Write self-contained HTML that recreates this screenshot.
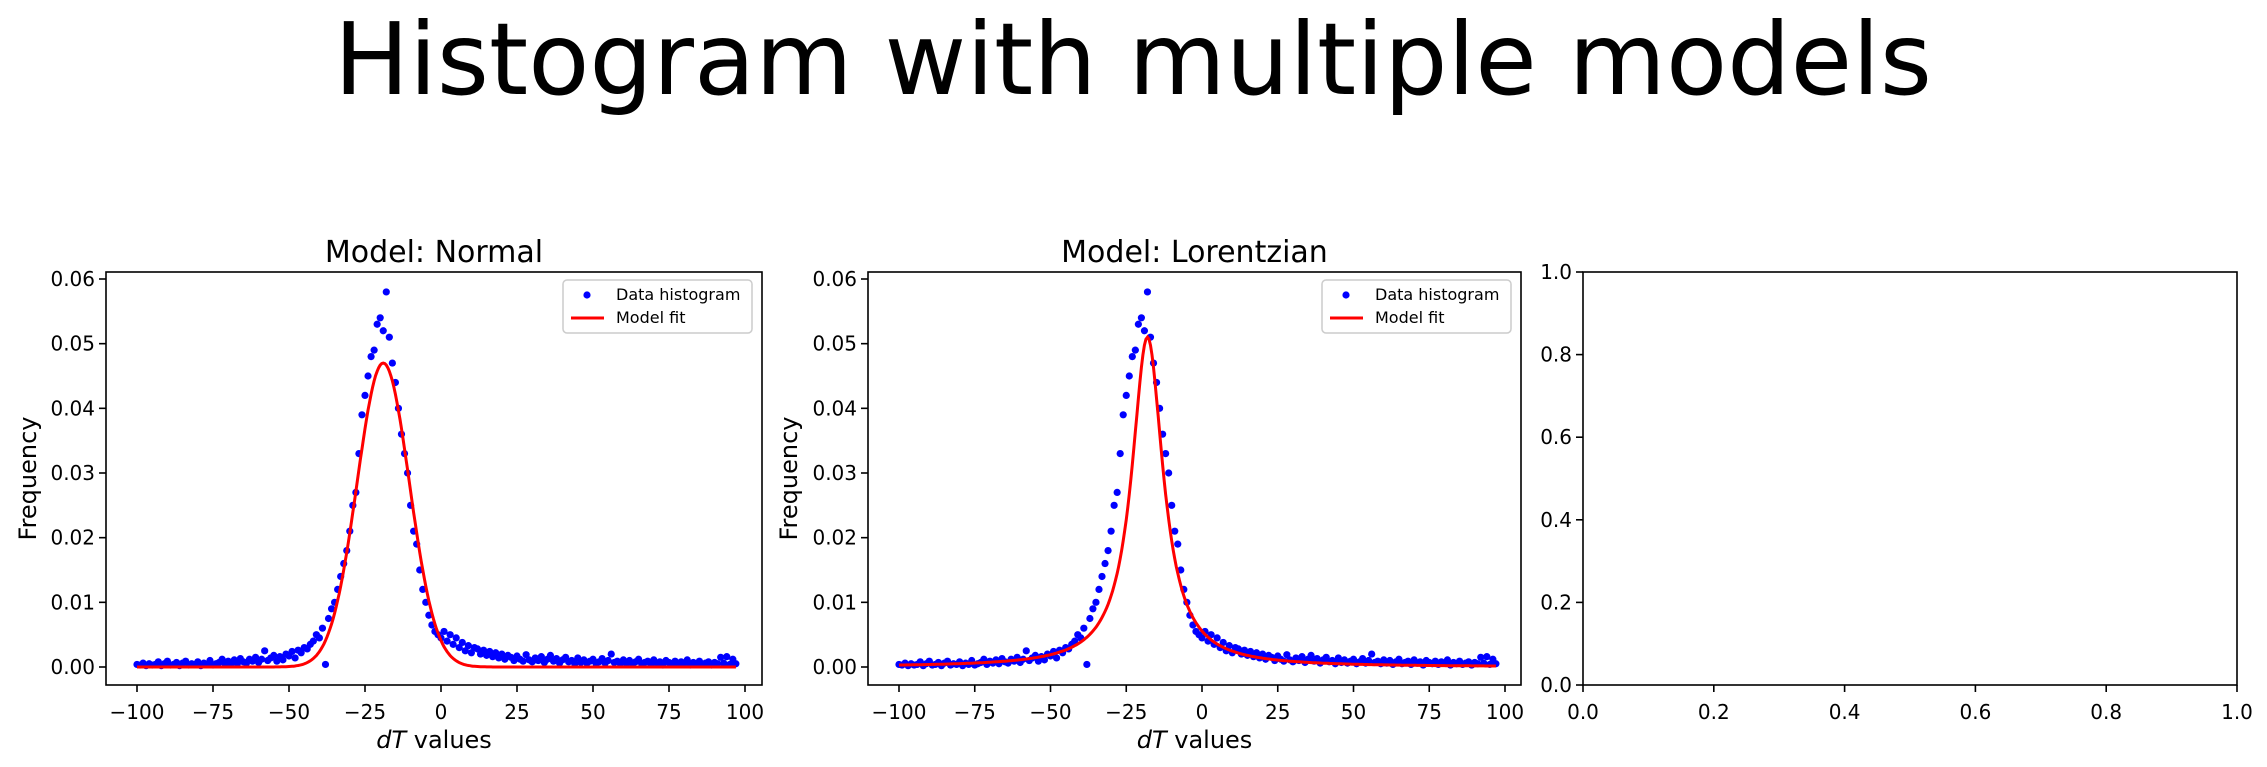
<!DOCTYPE html>
<html><head><meta charset="utf-8"><style>
html,body{margin:0;padding:0;background:#fff;}
svg{display:block;font-family:"DejaVu Sans","Liberation Sans",sans-serif;}
</style></head><body>
<svg id="fig" width="2267" height="767" viewBox="0 0 2267 767">
<text x="1133" y="94" font-size="100" text-anchor="middle">Histogram with multiple models</text>
<g id="root"></g>
</svg>
<script>
const dataX = [-100,-99,-98,-97,-96,-95,-94,-93,-92,-91,-90,-89,-88,-87,-86,-85,-84,-83,-82,-81,-80,-79,-78,-77,-76,-75,-74,-73,-72,-71,-70,-69,-68,-67,-66,-65,-64,-63,-62,-61,-60,-59,-58,-57,-56,-55,-54,-53,-52,-51,-50,-49,-48,-47,-46,-45,-44,-43,-42,-41,-40,-39,-38,-37,-36,-35,-34,-33,-32,-31,-30,-29,-28,-27,-26,-25,-24,-23,-22,-21,-20,-19,-18,-17,-16,-15,-14,-13,-12,-11,-10,-9,-8,-7,-6,-5,-4,-3,-2,-1,0,1,2,3,4,5,6,7,8,9,10,11,12,13,14,15,16,17,18,19,20,21,22,23,24,25,26,27,28,29,30,31,32,33,34,35,36,37,38,39,40,41,42,43,44,45,46,47,48,49,50,51,52,53,54,55,56,57,58,59,60,61,62,63,64,65,66,67,68,69,70,71,72,73,74,75,76,77,78,79,80,81,82,83,84,85,86,87,88,89,90,91,92,93,94,95,96,97];
const dataY = [0.0004,0.0003,0.0006,0.0002,0.0005,0.0003,0.0004,0.0008,0.0002,0.0005,0.0009,0.0003,0.0004,0.0007,0.0002,0.0006,0.0009,0.0003,0.0005,0.0004,0.0008,0.0002,0.0006,0.0004,0.0010,0.0003,0.0005,0.0007,0.0012,0.0004,0.0009,0.0006,0.0011,0.0005,0.0013,0.0008,0.0006,0.0012,0.0009,0.0015,0.0007,0.0012,0.0025,0.0010,0.0014,0.0018,0.0009,0.0016,0.0011,0.0020,0.0017,0.0024,0.0014,0.0026,0.0022,0.0030,0.0028,0.0035,0.0040,0.0050,0.0045,0.0060,0.0004,0.0075,0.0090,0.0100,0.0120,0.0140,0.0160,0.0180,0.0210,0.0250,0.0270,0.0330,0.0390,0.0420,0.0450,0.0480,0.0490,0.0530,0.0540,0.0520,0.0580,0.0510,0.0470,0.0440,0.0400,0.0360,0.0330,0.0300,0.0250,0.0210,0.0190,0.0150,0.0120,0.0100,0.0080,0.0065,0.0055,0.0050,0.0045,0.0055,0.0040,0.0050,0.0035,0.0045,0.0030,0.0038,0.0025,0.0033,0.0022,0.0030,0.0028,0.0020,0.0026,0.0018,0.0024,0.0016,0.0022,0.0014,0.0020,0.0012,0.0018,0.0015,0.0010,0.0017,0.0012,0.0009,0.0019,0.0011,0.0008,0.0014,0.0010,0.0016,0.0007,0.0012,0.0018,0.0009,0.0013,0.0006,0.0011,0.0015,0.0008,0.0010,0.0005,0.0014,0.0007,0.0011,0.0006,0.0009,0.0012,0.0005,0.0008,0.0013,0.0006,0.0010,0.0020,0.0007,0.0009,0.0005,0.0011,0.0006,0.0010,0.0004,0.0008,0.0012,0.0005,0.0007,0.0009,0.0004,0.0011,0.0006,0.0008,0.0003,0.0010,0.0007,0.0005,0.0009,0.0004,0.0008,0.0006,0.0011,0.0003,0.0007,0.0005,0.0009,0.0004,0.0006,0.0008,0.0003,0.0007,0.0005,0.0015,0.0006,0.0016,0.0004,0.0012,0.0005,0.0009,0.0014,0.0004,0.0010];
const xTicks = [-100,-75,-50,-25,0,25,50,75,100];
const yTicks = [0.00,0.01,0.02,0.03,0.04,0.05,0.06];
const yTickLabels = ["0.00","0.01","0.02","0.03","0.04","0.05","0.06"];
const emptyTicks = [0.0,0.2,0.4,0.6,0.8,1.0];
const emptyTickLabels = ["0.0","0.2","0.4","0.6","0.8","1.0"];
const normalParams = [0.047,-19,8.6];   // amplitude, mean, sigma
const lorentzParams = [0.051,-18,6.3];  // amplitude, center, gamma

const NS="http://www.w3.org/2000/svg";
const root=document.getElementById('root');
function mk(tag,attrs,parent){const e=document.createElementNS(NS,tag);for(const k in attrs)e.setAttribute(k,attrs[k]);(parent||root).appendChild(e);return e;}

function panel(cfg){
  const g=mk('g',{});
  
  
  const {L,R,T,B}=cfg;
  const sx=v=>cfg.x0px+(v-cfg.x0)*(cfg.x1px-cfg.x0px)/(cfg.x1-cfg.x0);
  const sy=v=>cfg.y0px+(v-cfg.y0)*(cfg.y1px-cfg.y0px)/(cfg.y1-cfg.y0);
  if(cfg.title){const t=mk('text',{x:(L+R)/2,y:262,'font-size':30,'text-anchor':'middle'},g);t.textContent=cfg.title;
    
    }
  cfg.xt.forEach((v,i)=>{const x=sx(v);mk('line',{x1:x,x2:x,y1:B,y2:B+7,stroke:'#000','stroke-width':1.6},g);
    const t=mk('text',{x:x,y:B+34,'font-size':20,'text-anchor':'middle'},g);t.textContent=cfg.xtl[i];
    
    });
  cfg.yt.forEach((v,i)=>{const y=sy(v);mk('line',{x1:L-7,x2:L,y1:y,y2:y,stroke:'#000','stroke-width':1.6},g);
    const t=mk('text',{x:L-11,y:y+7,'font-size':20,'text-anchor':'end'},g);t.textContent=cfg.ytl[i];
    
    });
  if(cfg.data){
    const dots=mk('g',{fill:'#0000ff'},g);
    
    
    dataX.forEach((x,i)=>{if(i>=dataY.length)return;const c=mk('circle',{cx:sx(x),cy:sy(dataY[i]),r:3.6},dots);
      
      });
    let d='';
    for(let x=-100;x<=97;x+=0.5){const y=cfg.model(x);d+=(d?'L':'M')+sx(x).toFixed(1)+','+sy(y).toFixed(1);}
    const p=mk('path',{d:d,fill:'none',stroke:'#ff0000','stroke-width':3},g);
    
    
    const lg=mk('g',{},g);
    
    
    const lx=R-199, ly=T+8;
    mk('rect',{x:lx,y:ly,width:189,height:53,rx:4,fill:'#fff','fill-opacity':0.8,stroke:'#ccc','stroke-width':1.5},lg);
    mk('circle',{cx:lx+24,cy:ly+15,r:3.6,fill:'#0000ff'},lg);
    const t1=mk('text',{x:lx+53,y:ly+20,'font-size':16},lg);t1.textContent='Data histogram';
    
    
    mk('line',{x1:lx+8,x2:lx+41,y1:ly+38,y2:ly+38,stroke:'#ff0000','stroke-width':3},lg);
    const t2=mk('text',{x:lx+53,y:ly+43,'font-size':16},lg);t2.textContent='Model fit';
    
    
  }
  mk('rect',{x:L,y:T,width:R-L,height:B-T,fill:'none',stroke:'#000','stroke-width':1.6},g);
  if(cfg.xlabel){const t=mk('text',{x:(L+R)/2,y:748,'font-size':24,'text-anchor':'middle'},g);
    t.innerHTML='<tspan font-style="italic">dT</tspan> values';
    
    }
  if(cfg.ylabel){const cy=(T+B)/2;const t=mk('text',{x:cfg.ylx,y:cy,'font-size':24,'text-anchor':'middle',transform:`rotate(-90 ${cfg.ylx} ${cy})`},g);
    t.textContent='Frequency';
    
    }
}
const normal=x=>normalParams[0]*Math.exp(-0.5*Math.pow((x-normalParams[1])/normalParams[2],2));
const lorentz=x=>lorentzParams[0]/(1+Math.pow((x-lorentzParams[1])/lorentzParams[2],2));
const common={T:272,B:685,x0:-100,x1:100,y0:0,y1:0.06,y0px:667,y1px:279,xt:xTicks,xtl:xTicks.map(String).map(s=>s.replace('-','\u2212')),yt:yTicks,ytl:yTickLabels,data:true,xlabel:true,ylabel:true};
panel(Object.assign({},common,{name:'normal-panel',title:'Model: Normal',L:106,R:762,x0px:137,x1px:745,model:normal,ylx:36}));
panel(Object.assign({},common,{name:'lorentzian-panel',title:'Model: Lorentzian',L:868,R:1521,x0px:899,x1px:1505,model:lorentz,ylx:797}));
panel({name:'empty-panel',L:1583,R:2237,T:272,B:685,x0:0,x1:1,x0px:1583,x1px:2237,y0:0,y1:1,y0px:685,y1px:272,xt:emptyTicks,xtl:emptyTickLabels,yt:emptyTicks,ytl:emptyTickLabels});
</script>
</body></html>
